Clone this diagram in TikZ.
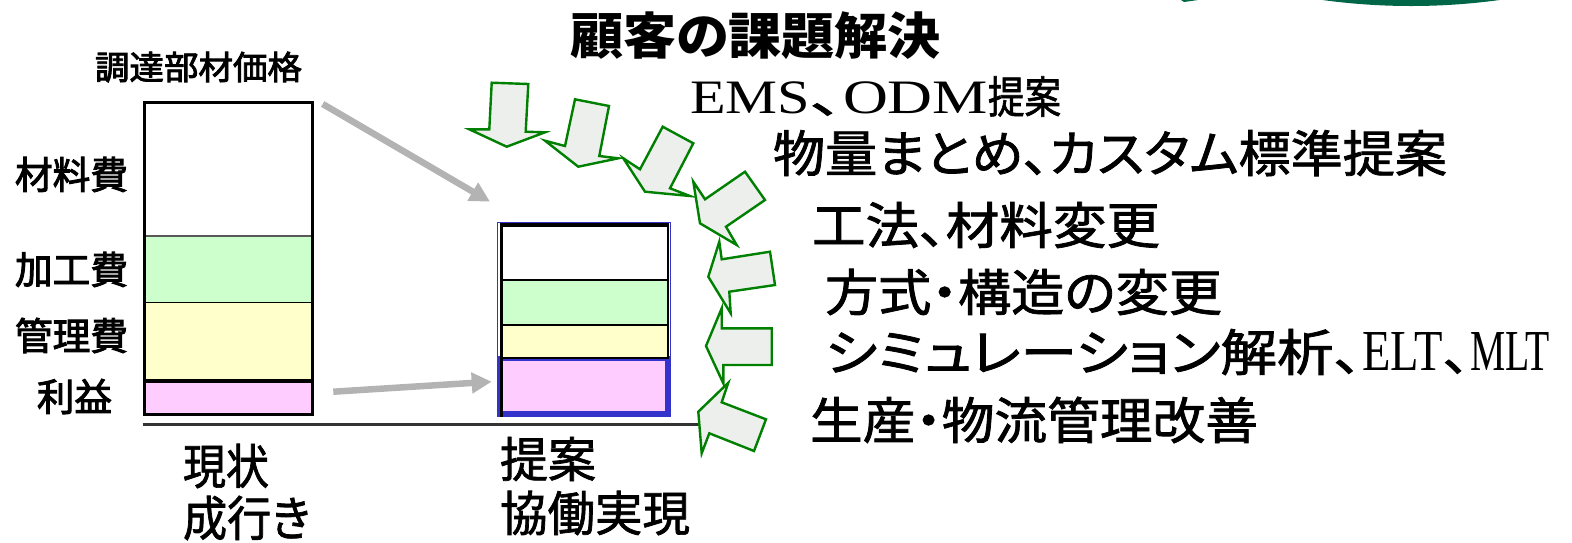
\documentclass[tikz,border=0pt]{standalone}
\usepackage{fontspec}
\usepackage{graphicx}
\setmainfont{Liberation Serif}
\newfontfamily\jp[RawFeature=+palt,FakeBold=1.5]{Noto Sans CJK JP}
\newfontfamily\jpm[RawFeature=+palt,FakeBold=2.6]{Noto Sans CJK JP}
\newfontfamily\jpt[RawFeature=+palt]{Noto Sans CJK JP}
\newfontfamily\lat{Liberation Serif}
\usetikzlibrary{arrows.meta}
\definecolor{cgreen}{HTML}{CCFFCC}
\definecolor{cyellow}{HTML}{FFFFCC}
\definecolor{cpink}{HTML}{FFCCFF}
\definecolor{cblue}{HTML}{3333CC}
\definecolor{agreen}{HTML}{008000}
\definecolor{afill}{HTML}{EDEFEC}
\definecolor{agray}{HTML}{B3B3B3}
\definecolor{dgreen}{HTML}{006647}
\newcommand\fw[2]{\resizebox{#1pt}{\height}{#2}}
\newcommand\jfs[1]{\jp\fontsize{#1}{#1}\selectfont}
\newcommand\jms[1]{\jpm\fontsize{#1}{#1}\selectfont}
\newcommand\lfs[1]{\lat\fontsize{#1}{#1}\selectfont}
\begin{document}
\begin{tikzpicture}[x=1pt,y=-1pt,
 txt/.style={inner sep=0pt,outer sep=0pt,anchor=west},
 blockarrow/.style={fill=afill,draw=agreen,line width=2.4pt,line join=miter},
 grayarrow/.style={draw=agray,line width=6.5pt,-{Triangle[length=20pt,width=20pt]}}]
\useasboundingbox (0,0) rectangle (1572,542);
% top-right green shape
\begin{scope}
\clip (0,0) rectangle (1572,542);
\fill[dgreen] (1411,-642) circle[radius=648pt];
\fill[dgreen] (1181,0) -- (1198,0) -- (1184,2) -- cycle;
\end{scope}
% left bar
\fill[white] (144,102) rectangle (312,236);
\fill[cgreen] (144,236) rectangle (312,302.5);
\fill[cyellow] (144,302.5) rectangle (312,381);
\fill[cpink] (144,381) rectangle (312,414);
\draw[gray!70!black,line width=1.2pt] (144,236) -- (312,236);
\draw[line width=1.5pt] (144,302.5) -- (312,302.5);
\draw[line width=3.5pt] (144,381) -- (312,381);
\draw[line width=3.5pt] (144.5,102.5) rectangle (312.5,414.5);
% right bar
\fill[cblue] (497.3,355.7) rectangle (671,416.7);
\fill[cpink] (503.3,360.7) rectangle (665,411);
\draw[cblue,line width=1pt] (497.8,222.2) rectangle (670.5,416.2);
\fill[white] (501,225) rectangle (668,280.2);
\fill[cgreen] (501,280.2) rectangle (668,325.2);
\fill[cyellow] (501,325.2) rectangle (668,357.8);
\draw[line width=1.7pt] (501,280.2) -- (668,280.2);
\draw[line width=1.7pt] (501,325.2) -- (668,325.2);
\draw[line width=2.3pt] (501,357.8) -- (668,357.8);
\draw[line width=2.3pt] (667.8,225) -- (667.8,358.9);
\draw[line width=3.4pt] (501.3,416.7) -- (501.3,225) -- (669,225);
% base line
\coordinate (bl0) at (142.7,424.7);
\coordinate (bl1) at (702,424.7);
\draw[black!80,line width=2.5pt] (bl0) -- (bl1);
% gray arrows
\coordinate (g1s) at (322.7,104);
\coordinate (g1e) at (490,201.7);
\coordinate (g2s) at (333.3,391.7);
\coordinate (g2e) at (491.7,381.7);
\draw[grayarrow] (g1s) -- (g1e);
\draw[grayarrow] (g2s) -- (g2e);
% block arrows
\draw[blockarrow] (491.7,82.7) -- (528.3,84) -- (525.7,131.7) -- (545,132.3) -- (506.7,146.7) -- (469.3,129.3) -- (489.3,129.3) -- cycle;
\draw[blockarrow] (575,99.3) -- (609,106) -- (599.3,156) -- (618.3,158.3) -- (578.3,166.7) -- (545,140.7) -- (565,146) -- cycle;
\draw[blockarrow] (662.7,126.7) -- (693.3,143.3) -- (670,188.3) -- (690,196) -- (645,191.7) -- (623.3,158.3) -- (640,169.3) -- cycle;
\draw[blockarrow] (745,171.7) -- (765,200) -- (726,226.7) -- (736.7,245) -- (700,223.3) -- (693.3,181.7) -- (705,199.3) -- cycle;
\draw[blockarrow] (770,251.7) -- (775,285) -- (729.3,291.7) -- (730.7,313.3) -- (708.3,276.7) -- (719.3,241.7) -- (721.7,259.3) -- cycle;
\draw[blockarrow] (771.7,328.3) -- (771.7,365) -- (723.3,365) -- (723.3,383.3) -- (706,346) -- (721.7,308.3) -- (721.7,328.3) -- cycle;
\draw[blockarrow] (766,419.3) -- (754,451) -- (709.3,433.3) -- (701.7,453.3) -- (698.3,411.7) -- (728.3,382.7) -- (721.7,402.3) -- cycle;
% texts
\node[txt] (title) at (570,35.5) {\jpt\fontsize{50}{50}\selectfont\bfseries\fw{371}{顧客の課題解決}};
\node[txt] (s1) at (690,96.5) {\jfs{44}\fw{120}{\lfs{48}EMS}\fw{33}{、}\fw{145}{\lfs{48}ODM}\fw{73}{提案}};
\node[txt] (s2) at (773,153) {\jfs{50}\fw{674}{物量まとめ、カスタム標準提案}};
\node[txt] (s3) at (812,225) {\jfs{50}\fw{348}{工法、材料変更}};
\node[txt] (s4) at (825,292) {\jfs{50}\fw{397}{方式・構造の変更}};
\node[txt] (s5) at (825,352) {\jfs{50}\fw{537}{シミュレーション解析、}\fw{81}{\lfs{58}ELT}\fw{27}{、}\fw{80}{\lfs{58}MLT}};
\node[txt] (s6) at (810,420) {\jfs{50}\fw{448}{生産・物流管理改善}};
\node[txt] (lprice) at (95,67) {\jms{33}\fw{207}{調達部材価格}};
\node[txt] (lmat) at (15,174.5) {\jms{38}\fw{113}{材料費}};
\node[txt] (lproc) at (15,269.5) {\jms{38}\fw{113}{加工費}};
\node[txt] (lmgmt) at (15,335.5) {\jms{38}\fw{113}{管理費}};
\node[txt] (lprof) at (37,396.5) {\jms{38}\fw{75}{利益}};
\node[txt] (cur1) at (183,466) {\jfs{48}\fw{86}{現状}};
\node[txt] (cur2) at (183,518) {\jfs{48}\fw{127}{成行き}};
\node[txt] (prop1) at (500,459) {\jfs{48}\fw{96}{提案}};
\node[txt] (prop2) at (500,513) {\jfs{48}\fw{190}{協働実現}};
\end{tikzpicture}
\end{document}
